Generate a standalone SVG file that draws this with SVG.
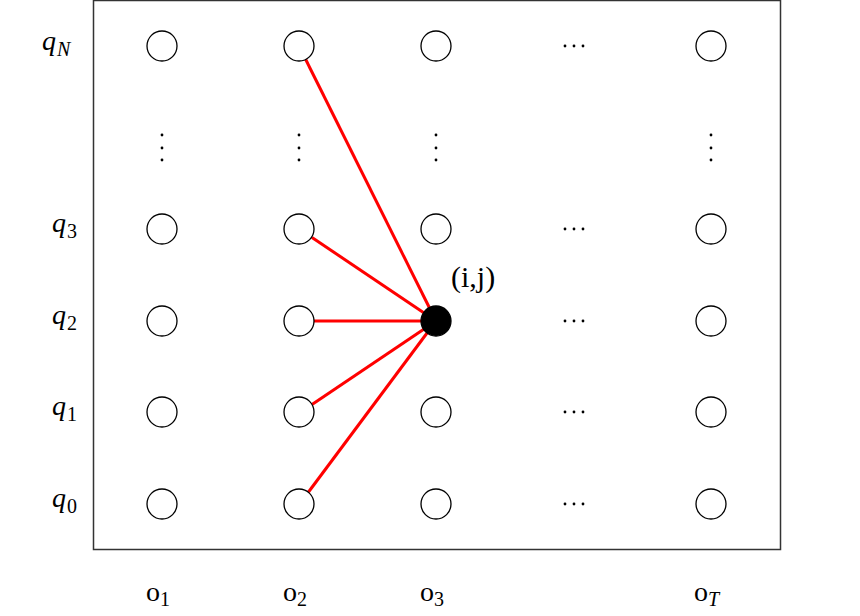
<svg xmlns="http://www.w3.org/2000/svg" width="860" height="616" viewBox="0 0 860 616">
<style>
.n{fill:#fff;stroke:#000;stroke-width:1.3}
.f{fill:#000;stroke:#000;stroke-width:1.3}
.e{stroke:#ff0000;stroke-width:3;fill:none}
.t{font-family:"Liberation Serif",serif;font-size:28px;fill:#000}
.s{font-size:20px;font-style:normal}
.i{font-style:italic}
.d{fill:#000}
</style>
<rect x="0" y="0" width="860" height="616" fill="#fff"/>
<rect x="93.5" y="0.5" width="687" height="549" fill="none" stroke="#333" stroke-width="1.5"/>
<g id="connectors">
<line class="e" x1="436" y1="321" x2="305.7" y2="59.5"/>
<line class="e" x1="436" y1="321" x2="312" y2="237.5"/>
<line class="e" x1="436" y1="321" x2="314" y2="321"/>
<line class="e" x1="436" y1="321" x2="312" y2="404.5"/>
<line class="e" x1="436" y1="321" x2="308.5" y2="492"/>
</g>
<g id="nodes">
<g id="c1"><circle class="n" cx="162" cy="46" r="15"/><circle class="n" cx="162" cy="229" r="15"/><circle class="n" cx="162" cy="321" r="15"/><circle class="n" cx="162" cy="412" r="15"/><circle class="n" cx="162" cy="504" r="15"/></g>
<g id="c2"><circle class="n" cx="299" cy="46" r="15"/><circle class="n" cx="299" cy="229" r="15"/><circle class="n" cx="299" cy="321" r="15"/><circle class="n" cx="299" cy="412" r="15"/><circle class="n" cx="299" cy="504" r="15"/></g>
<g id="c3"><circle class="n" cx="436" cy="46" r="15"/><circle class="n" cx="436" cy="229" r="15"/><circle id="ij" class="f" cx="436" cy="321" r="15"/><circle class="n" cx="436" cy="412" r="15"/><circle class="n" cx="436" cy="504" r="15"/></g>
<g id="cT"><circle class="n" cx="711" cy="46" r="15"/><circle class="n" cx="711" cy="229" r="15"/><circle class="n" cx="711" cy="321" r="15"/><circle class="n" cx="711" cy="412" r="15"/><circle class="n" cx="711" cy="504" r="15"/></g>
</g>
<g id="dots">
<g><circle class="d" cx="162" cy="135" r="1.4"/><circle class="d" cx="162" cy="148" r="1.4"/><circle class="d" cx="162" cy="160" r="1.4"/></g>
<g><circle class="d" cx="299" cy="135" r="1.4"/><circle class="d" cx="299" cy="148" r="1.4"/><circle class="d" cx="299" cy="160" r="1.4"/></g>
<g><circle class="d" cx="436" cy="135" r="1.4"/><circle class="d" cx="436" cy="148" r="1.4"/><circle class="d" cx="436" cy="160" r="1.4"/></g>
<g><circle class="d" cx="711" cy="135" r="1.4"/><circle class="d" cx="711" cy="148" r="1.4"/><circle class="d" cx="711" cy="160" r="1.4"/></g>
<g><circle class="d" cx="565" cy="46" r="1.4"/><circle class="d" cx="574" cy="46" r="1.4"/><circle class="d" cx="583" cy="46" r="1.4"/></g>
<g><circle class="d" cx="565" cy="229" r="1.4"/><circle class="d" cx="574" cy="229" r="1.4"/><circle class="d" cx="583" cy="229" r="1.4"/></g>
<g><circle class="d" cx="565" cy="321" r="1.4"/><circle class="d" cx="574" cy="321" r="1.4"/><circle class="d" cx="583" cy="321" r="1.4"/></g>
<g><circle class="d" cx="565" cy="412" r="1.4"/><circle class="d" cx="574" cy="412" r="1.4"/><circle class="d" cx="583" cy="412" r="1.4"/></g>
<g><circle class="d" cx="565" cy="504" r="1.4"/><circle class="d" cx="574" cy="504" r="1.4"/><circle class="d" cx="583" cy="504" r="1.4"/></g>
</g>
<g id="labels">
<text class="t i" x="42" y="50">q<tspan class="s i" dx="1" dy="6">N</tspan></text>
<text class="t i" x="52" y="232">q<tspan class="s" dx="1" dy="6">3</tspan></text>
<text class="t i" x="52" y="324">q<tspan class="s" dx="1" dy="6">2</tspan></text>
<text class="t i" x="52" y="415">q<tspan class="s" dx="1" dy="6">1</tspan></text>
<text class="t i" x="52" y="507">q<tspan class="s" dx="1" dy="6">0</tspan></text>
<text class="t" x="146" y="601">o<tspan class="s" dy="5">1</tspan></text>
<text class="t" x="283" y="601">o<tspan class="s" dy="5">2</tspan></text>
<text class="t" x="420" y="601">o<tspan class="s" dy="5">3</tspan></text>
<text class="t" x="694" y="601">o<tspan class="s i" dy="5">T</tspan></text>
<text class="t" x="451" y="287" style="font-size:30px">(i,j)</text>
</g>
</svg>
